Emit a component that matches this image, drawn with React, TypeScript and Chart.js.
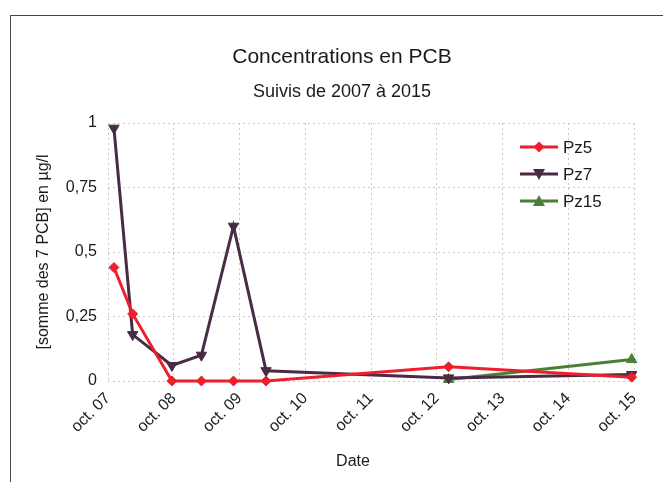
import React, { useEffect, useRef } from "react";
import { Chart, registerables } from "chart.js";

Chart.register(...registerables);

const chartTitle = "Concentrations en PCB";
const chartSubtitle = "Suivis de 2007 à 2015";
const yAxisTitle = "[somme des 7 PCB] en µg/l";
const xAxisTitle = "Date";

// sampling dates (x) shared by all series
const sampleDates = [
  "2007-11-03",
  "2008-02-15",
  "2008-09-20",
  "2009-03-03",
  "2009-08-28",
  "2010-02-25",
  "2012-12-05",
  "2015-09-18",
];
const pz5 = [0.44, 0.26, 0, 0, 0, 0, 0.055, 0.015];
const pz7 = [0.98, 0.18, 0.06, 0.1, 0.6, 0.04, 0.012, 0.025];
const pz15 = [null, null, null, null, null, null, 0.006, 0.083];

const xTickLabels = [
  "oct. 07",
  "oct. 08",
  "oct. 09",
  "oct. 10",
  "oct. 11",
  "oct. 12",
  "oct. 13",
  "oct. 14",
  "oct. 15",
];
const yTickLabels = ["0", "0,25", "0,5", "0,75", "1"];

const seriesNames = ["Pz5", "Pz7", "Pz15"];
const seriesColors = ["#ee1f2d", "#4a2b44", "#4b7f35"];
const seriesMarkers = ["diamond", "down", "up"];

const FONT = "'Liberation Sans', Arial, sans-serif";
const TEXT = "#1a1a1a";
const ORIGIN = Date.UTC(2007, 9, 1);
const toYears = (d: string) => (Date.parse(d) - ORIGIN) / (365.25 * 86400000);

const toPoints = (vals: (number | null)[]) =>
  sampleDates
    .map((d, i) => ({ x: toYears(d), y: vals[i] }))
    .filter((p) => p.y !== null);

function drawMarker(ctx: CanvasRenderingContext2D, kind: string, x: number, y: number) {
  ctx.beginPath();
  if (kind === "diamond") {
    const r = 5.5;
    ctx.moveTo(x, y - r);
    ctx.lineTo(x + r, y);
    ctx.lineTo(x, y + r);
    ctx.lineTo(x - r, y);
  } else if (kind === "down") {
    ctx.moveTo(x - 6, y - 5);
    ctx.lineTo(x + 6, y - 5);
    ctx.lineTo(x, y + 6);
  } else {
    ctx.moveTo(x - 6, y + 5);
    ctx.lineTo(x + 6, y + 5);
    ctx.lineTo(x, y - 6);
  }
  ctx.closePath();
  ctx.fill();
}

const overlayPlugin = {
  id: "overlayText",
  afterDraw(chart: any) {
    const ctx = chart.ctx as CanvasRenderingContext2D;
    const rows = [147, 174, 201];
    ctx.save();
    ctx.textBaseline = "middle";
    ctx.fillStyle = TEXT;
    ctx.textAlign = "center";
    ctx.font = `21px ${FONT}`;
    ctx.fillText(chartTitle, 342, 57);
    ctx.font = `18px ${FONT}`;
    ctx.fillText(chartSubtitle, 342, 92);
    seriesNames.forEach((name, i) => {
      const y = rows[i];
      ctx.strokeStyle = seriesColors[i];
      ctx.lineWidth = 3;
      ctx.beginPath();
      ctx.moveTo(520, y);
      ctx.lineTo(558, y);
      ctx.stroke();
      ctx.fillStyle = seriesColors[i];
      drawMarker(ctx, seriesMarkers[i], 539, y);
      ctx.fillStyle = TEXT;
      ctx.font = `17px ${FONT}`;
      ctx.textAlign = "left";
      ctx.fillText(name, 563, y + 1);
    });
    ctx.font = `16px ${FONT}`;
    ctx.textAlign = "center";
    ctx.fillStyle = TEXT;
    ctx.fillText(xAxisTitle, 353, 462);
    ctx.restore();
  },
};

export default function App() {
  const ref = useRef<HTMLCanvasElement | null>(null);

  useEffect(() => {
    if (!ref.current) return;
    const datasets = [pz5, pz7, pz15].map((vals, i) => ({
      label: seriesNames[i],
      data: toPoints(vals),
      borderColor: seriesColors[i],
      backgroundColor: seriesColors[i],
      borderWidth: 3,
      pointStyle: i === 0 ? "rectRot" : "triangle",
      pointRotation: i === 1 ? 180 : 0,
      pointRadius: i === 0 ? 5 : 6,
      pointBorderWidth: 1,
      tension: 0,
      clip: false as any,
    }));

    const chart = new Chart(ref.current, {
      type: "line",
      data: { datasets: datasets as any },
      options: {
        animation: false,
        responsive: false,
        layout: { padding: { top: 123, left: 10, right: 29, bottom: 0 } },
        plugins: {
          legend: { display: false },
          tooltip: { enabled: false },
          title: { display: false },
          subtitle: { display: false },
        },
        scales: {
          x: {
            type: "linear",
            min: 0,
            max: 8,
            afterFit: (s: any) => {
              s.height = 101;
            },
            ticks: {
              stepSize: 1,
              autoSkip: false,
              minRotation: 45,
              maxRotation: 45,
              padding: 8,
              color: TEXT,
              font: { family: FONT, size: 16 },
              callback: (v: any) => xTickLabels[Math.round(Number(v))] ?? "",
            },
            grid: { color: "#c9c9c9", lineWidth: 1, drawTicks: false },
            border: { display: false, dash: [2, 3] },
            title: { display: false },
          },
          y: {
            type: "linear",
            min: 0,
            max: 1,
            afterFit: (s: any) => {
              s.width = 98;
            },
            ticks: {
              stepSize: 0.25,
              padding: 11,
              color: TEXT,
              font: { family: FONT, size: 16 },
              callback: (v: any) => yTickLabels[Math.round(Number(v) / 0.25)] ?? "",
            },
            grid: { color: "#c9c9c9", lineWidth: 1, drawTicks: false },
            border: { display: false, dash: [2, 3] },
            title: {
              display: true,
              text: yAxisTitle,
              color: TEXT,
              font: { family: FONT, size: 16 },
              padding: { top: 24, bottom: 0 },
            },
          },
        },
      },
      plugins: [overlayPlugin],
    });
    return () => chart.destroy();
  }, []);

  return (
    <div
      style={{
        position: "fixed",
        left: 0,
        top: 0,
        width: 663,
        height: 482,
        background: "#fff",
      }}
    >
      <div
        style={{
          position: "absolute",
          left: 10,
          top: 15,
          right: 0,
          bottom: 0,
          borderTop: "1.5px solid #444",
          borderLeft: "1.5px solid #444",
        }}
      />
      <canvas ref={ref} width={663} height={482} style={{ position: "absolute", left: 0, top: 0 }} />
    </div>
  );
}
